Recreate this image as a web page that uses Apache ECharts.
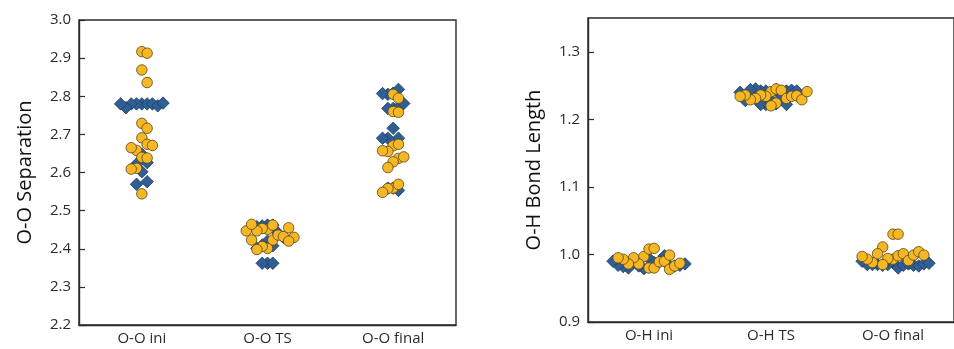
<!DOCTYPE html>
<html>
<head>
<meta charset="utf-8">
<script src="https://cdn.jsdelivr.net/npm/echarts@6/dist/echarts.min.js"></script>
<style>
  html, body { margin: 0; padding: 0; background: #ffffff; }
  #chart { width: 954px; height: 349px; }
</style>
</head>
<body>
<div id="chart"></div>
<script>
// ---- categories and tick labels ----
const ooCategories = ['O-O ini', 'O-O TS', 'O-O final'];
const ohCategories = ['O-H ini', 'O-H TS', 'O-O final'];
const ooTicks = [2.2, 2.3, 2.4, 2.5, 2.6, 2.7, 2.8, 2.9, 3.0];
const ohTicks = [0.9, 1.0, 1.1, 1.2, 1.3];
const ohAxisMax = 1.35;

// ---- O-O separation (diamonds / circles per category) ----
const ooIniDiamond   = [2.780, 2.780, 2.780, 2.780, 2.780, 2.775, 2.770, 2.780, 2.782, 2.648, 2.626, 2.622, 2.602, 2.576, 2.569];
const ooIniCircle    = [2.917, 2.913, 2.869, 2.836, 2.729, 2.716, 2.691, 2.674, 2.658, 2.665, 2.671, 2.640, 2.638, 2.611, 2.609, 2.544];
const ooTsDiamond    = [2.462, 2.462, 2.460, 2.458, 2.441, 2.430, 2.420, 2.408, 2.410, 2.401, 2.362, 2.362, 2.362];
const ooTsCircle     = [2.451, 2.462, 2.453, 2.447, 2.423, 2.401, 2.406, 2.436, 2.432, 2.423, 2.447, 2.464, 2.455, 2.430, 2.420, 2.398];
const ooFinalDiamond = [2.808, 2.818, 2.805, 2.807, 2.768, 2.771, 2.768, 2.781, 2.716, 2.690, 2.690, 2.690, 2.559, 2.553, 2.559];
const ooFinalCircle  = [2.805, 2.795, 2.760, 2.758, 2.670, 2.674, 2.655, 2.657, 2.637, 2.641, 2.628, 2.613, 2.559, 2.569, 2.558, 2.548];

// ---- O-H bond length (diamonds / circles per category) ----
const ohIniDiamond   = [0.994, 0.988, 0.979, 0.983, 0.989, 0.998, 0.988, 0.980, 0.983, 0.983, 0.982, 0.984, 0.984, 0.986, 0.990];
const ohIniCircle    = [0.980, 0.980, 0.997, 0.986, 0.989, 0.990, 1.008, 1.009, 0.995, 0.986, 0.978, 0.999, 0.983, 0.993, 0.995, 0.987];
const ohTsDiamond    = [1.229, 1.223, 1.222, 1.222, 1.242, 1.235, 1.242, 1.242, 1.222, 1.244, 1.245, 1.244, 1.243, 1.242, 1.228, 1.240];
const ohTsCircle     = [1.241, 1.245, 1.234, 1.236, 1.243, 1.231, 1.231, 1.224, 1.220, 1.229, 1.234, 1.235, 1.236, 1.234, 1.229, 1.241];
const ohFinalDiamond = [0.988, 0.980, 0.985, 0.984, 0.984, 0.986, 0.985, 0.985, 0.984, 0.983, 0.985, 0.990, 0.986, 0.987];
const ohFinalCircle  = [0.993, 0.998, 0.994, 1.011, 1.030, 0.985, 1.001, 0.991, 1.001, 0.988, 1.030, 0.999, 1.004, 0.993, 0.997, 0.999];

// ---- layout ----
const FONT = '"Open Sans", "DejaVu Sans", sans-serif';
const INK = '#2b2b2b';
const panels = [
  { left: 79,  top: 20, width: 377, height: 305, min: ooTicks[0], max: ooTicks[ooTicks.length - 1],
    name: 'O-O Separation', cats: ooCategories,
    diamonds: [ooIniDiamond, ooTsDiamond, ooFinalDiamond],
    circles:  [ooIniCircle,  ooTsCircle,  ooFinalCircle] },
  { left: 588, top: 18, width: 377, height: 304, min: ohTicks[0], max: ohAxisMax,
    name: 'O-H Bond Length', cats: ohCategories,
    diamonds: [ohIniDiamond, ohTsDiamond, ohFinalDiamond],
    circles:  [ohIniCircle,  ohTsCircle,  ohFinalCircle] }
];

const STEP = 5.3;   // horizontal spacing between neighbouring dots (px)
const REACH = 13;   // vertical distance under which dots are pushed apart (px)

// Simple beeswarm: each value takes the nearest free horizontal slot.
function swarmOffsets(values, pxPerUnit) {
  const placed = [];
  return values.map(v => {
    const y = v * pxPerUnit;
    for (let k = 0; k < 200; k++) {
      const cands = k === 0 ? [0] : (k % 2 ? [k * STEP, -k * STEP] : [-k * STEP, k * STEP]);
      for (const dx of cands) {
        const free = placed.every(p => Math.abs(p.y - y) >= REACH || Math.abs(p.dx - dx) >= STEP - 1e-6);
        if (free) { placed.push({ y, dx }); return dx; }
      }
    }
    return 0;
  });
}

function points(p, groups) {
  const pxPerUnit = p.height / (p.max - p.min);
  const catPx = p.width / p.cats.length;
  const out = [];
  groups.forEach((vals, ci) => {
    const offs = swarmOffsets(vals, pxPerUnit);
    vals.forEach((v, i) => out.push([ci + 0.5 + offs[i] / catPx, v]));
  });
  return out;
}

const grid = [], xAxis = [], yAxis = [], series = [];
panels.forEach((p, i) => {
  grid.push({ left: p.left, top: p.top, width: p.width, height: p.height,
              show: true, borderColor: INK, borderWidth: 1.4, backgroundColor: 'transparent' });
  // visible category axis
  xAxis.push({ type: 'category', gridIndex: i, data: p.cats, boundaryGap: true,
    axisLine: { lineStyle: { color: INK, width: 1.4 } },
    axisTick: { inside: true, alignWithLabel: true, length: 8, lineStyle: { color: INK, width: 1.2 } },
    axisLabel: { color: INK, fontFamily: FONT, fontSize: 15, margin: 6 },
    splitLine: { show: false } });
  // hidden numeric axis that places the dots within each category
  xAxis.push({ type: 'value', gridIndex: i, min: 0, max: p.cats.length, show: false, splitLine: { show: false } });
  yAxis.push({ type: 'value', gridIndex: i, min: p.min, max: p.max, interval: 0.1,
    name: p.name, nameLocation: 'middle', nameRotate: 90, nameGap: 44,
    nameTextStyle: { color: '#111', fontFamily: FONT, fontSize: 20 },
    axisLine: { show: true, lineStyle: { color: INK, width: 1.4 } },
    axisTick: { show: true, inside: true, length: 6, lineStyle: { color: INK, width: 1.2 } },
    axisLabel: { color: INK, fontFamily: FONT, fontSize: 15, margin: 8, showMaxLabel: i === 0,
                 formatter: v => v.toFixed(1) },
    splitLine: { show: false } });
  series.push({ type: 'scatter', xAxisIndex: i * 2 + 1, yAxisIndex: i, symbol: 'diamond', symbolSize: 12.5,
    itemStyle: { color: '#2f5f95', borderColor: '#1d3b60', borderWidth: 0.8, opacity: 1 },
    data: points(p, p.diamonds), z: 3 });
  series.push({ type: 'scatter', xAxisIndex: i * 2 + 1, yAxisIndex: i, symbol: 'circle', symbolSize: 10.5,
    itemStyle: { color: '#f5b726', borderColor: '#5a4512', borderWidth: 0.8, opacity: 1 },
    data: points(p, p.circles), z: 4 });
});

const chart = echarts.init(document.getElementById('chart'), null, { renderer: 'canvas' });
chart.setOption({ animation: false, backgroundColor: '#ffffff', grid, xAxis, yAxis, series });
</script>
</body>
</html>
